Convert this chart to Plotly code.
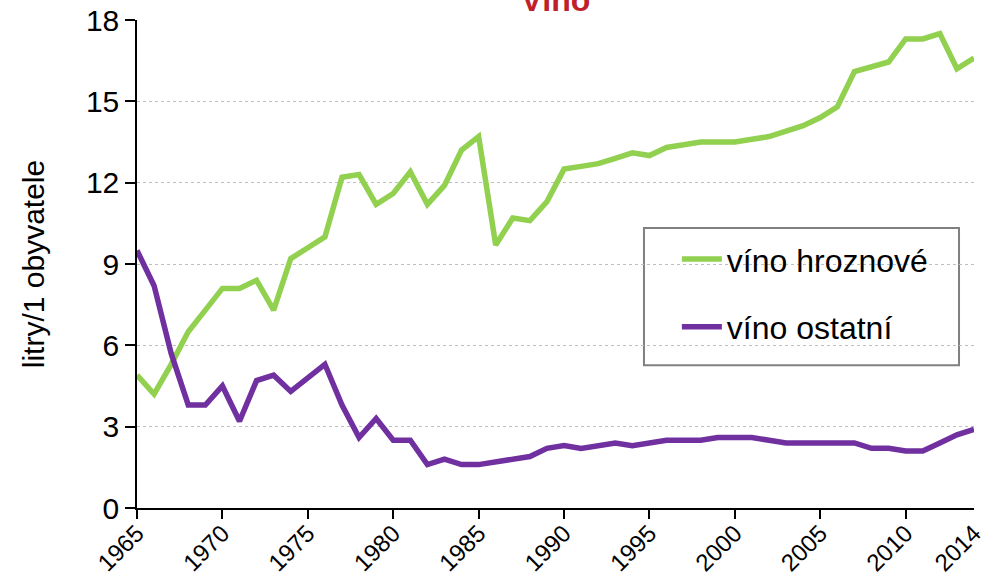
import plotly.graph_objects as go

# Per-capita wine consumption (litres per inhabitant), 1965-2014
years = list(range(1965, 2015))

vino_hroznove = [
    4.9, 4.2, 5.3, 6.5, 7.3, 8.1, 8.1, 8.4, 7.3, 9.2,
    9.6, 10.0, 12.2, 12.3, 11.2, 11.6, 12.4, 11.2, 11.9, 13.2,
    13.7, 9.7, 10.7, 10.6, 11.3, 12.5, 12.6, 12.7, 12.9, 13.1,
    13.0, 13.3, 13.4, 13.5, 13.5, 13.5, 13.6, 13.7, 13.9, 14.1,
    14.4, 14.8, 16.1, 16.25, 16.45, 17.3, 17.3, 17.5, 16.2, 16.6,
]

vino_ostatni = [
    9.5, 8.2, 5.7, 3.8, 3.8, 4.5, 3.2, 4.7, 4.9, 4.3,
    4.8, 5.3, 3.8, 2.6, 3.3, 2.5, 2.5, 1.6, 1.8, 1.6,
    1.6, 1.7, 1.8, 1.9, 2.2, 2.3, 2.2, 2.3, 2.4, 2.3,
    2.4, 2.5, 2.5, 2.5, 2.6, 2.6, 2.6, 2.5, 2.4, 2.4,
    2.4, 2.4, 2.4, 2.2, 2.2, 2.1, 2.1, 2.4, 2.7, 2.9,
]

x_tick_vals = [1965, 1970, 1975, 1980, 1985, 1990, 1995, 2000, 2005, 2010, 2014]
x_tick_text = [str(v) for v in x_tick_vals]
y_tick_vals = [0, 3, 6, 9, 12, 15, 18]

FONT = "Liberation Sans, Arial, sans-serif"

fig = go.Figure()
fig.add_trace(go.Scatter(
    x=years, y=vino_hroznove, mode="lines", name="víno hroznové",
    legendgroup="a",
    line=dict(color="#92D050", width=5.5),
))
fig.add_trace(go.Scatter(
    x=years, y=vino_ostatni, mode="lines", name="víno ostatní",
    legendgroup="b",
    line=dict(color="#7030A0", width=5.5),
))

fig.update_layout(
    width=998, height=577,
    margin=dict(l=137, r=24, t=20, b=69),
    paper_bgcolor="white", plot_bgcolor="white",
    font=dict(family=FONT, color="black", size=26),
    showlegend=True,
    legend=dict(
        x=0.645, y=0.566, xanchor="left", yanchor="top",
        borderwidth=0, bgcolor="rgba(0,0,0,0)",
        font=dict(size=32, family=FONT, color="black"),
        traceorder="grouped", tracegroupgap=23,
        itemwidth=40,
    ),
    # framed white panel behind the legend entries
    shapes=[dict(
        type="rect", xref="paper", yref="paper",
        x0=0.6057, x1=0.9821, y0=0.2926, y1=0.5739,
        line=dict(color="#808080", width=2), fillcolor="white",
        layer="between",
    )],
    annotations=[dict(
        text="<b>Víno</b>", xref="paper", yref="paper",
        x=0.5, y=1, xanchor="center", yanchor="bottom", yshift=0,
        showarrow=False, font=dict(size=32, color="#C0202A", family=FONT),
    )],
)

fig.update_xaxes(
    range=[1965, 2014], automargin=False,
    tickmode="array", tickvals=x_tick_vals, ticktext=x_tick_text,
    tickangle=-45, ticks="",
    tickfont=dict(size=24, family=FONT),
    showline=True, linecolor="black", linewidth=1.5,
    showgrid=False, zeroline=False,
    minor=dict(ticks="outside", tick0=1965, dtick=5, ticklen=9,
               tickcolor="black", tickwidth=1.5, showgrid=False),
)

fig.update_yaxes(
    range=[0, 18], automargin=False,
    tickmode="array", tickvals=y_tick_vals,
    ticks="outside", ticklen=10, tickcolor="black", tickwidth=1.5,
    tickfont=dict(size=30, family=FONT),
    showline=True, linecolor="black", linewidth=1.5,
    showgrid=True, gridcolor="#BFBFBF", gridwidth=1, griddash="dot",
    zeroline=False,
    title=dict(text="litry/1 obyvatele", font=dict(size=30, family=FONT),
               standoff=32),
)

fig.write_html("out.html")
